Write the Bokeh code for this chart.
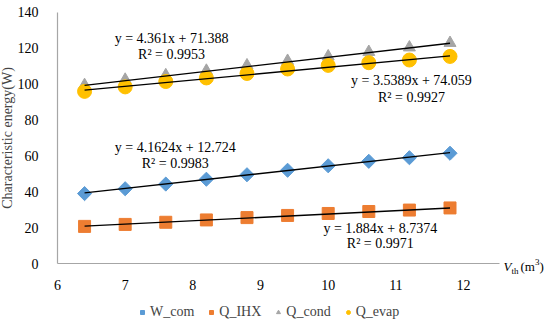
from bokeh.plotting import figure
from bokeh.models import Label, Legend, LegendItem, FixedTicker, Range1d
from bokeh.embed import file_html
from bokeh.resources import INLINE
import numpy as np

# ---- data ----
v_th = [6.4, 7.0, 7.6, 8.2, 8.8, 9.4, 10.0, 10.6, 11.2, 11.8]
w_com = [39.0, 41.7, 44.3, 47.0, 49.5, 52.0, 54.5, 57.0, 59.0, 61.5]
q_ihx = [20.7, 21.8, 23.0, 24.3, 25.6, 26.8, 27.9, 29.0, 29.8, 31.0]
q_cond = [99.5, 102.5, 105.0, 107.5, 110.5, 113.0, 115.5, 118.0, 120.5, 123.0]
q_evap = [96.0, 98.5, 101.5, 103.5, 106.0, 108.5, 110.5, 112.0, 113.5, 115.5]

series_names = ["W_com", "Q_IHX", "Q_cond", "Q_evap"]
# trendline coefficients (slope, intercept) and R^2 as printed
fit_slope = [4.1624, 1.884, 4.361, 3.5389]
fit_icpt = [12.724, 8.7374, 71.388, 74.059]
fit_r2 = ["0.9983", "0.9971", "0.9953", "0.9927"]
fit_eq = ["y = 4.1624x + 12.724", "y = 1.884x + 8.7374", "y = 4.361x + 71.388", "y = 3.5389x + 74.059"]

x_ticks = [6, 7, 8, 9, 10, 11, 12]
y_ticks = [0, 20, 40, 60, 80, 100, 120, 140]

FONT = "Liberation Serif"
colors = ["#5B9BD5", "#ED7D31", "#A5A5A5", "#FFC000"]
markers = ["square", "square", "triangle", "circle"]
angles = [np.pi / 4, 0, 0, 0]
sizes = [10, 12, 12, 14]
leg_sizes = [6, 7, 8, 8]

p = figure(width=550, height=320, output_backend="svg", toolbar_location=None,
           x_range=Range1d(5.1577, 13.285), y_range=Range1d(-31.79, 146.69),
           min_border_left=0, min_border_right=0, min_border_top=0, min_border_bottom=0)
p.outline_line_color = None
p.xgrid.visible = False
p.ygrid.visible = False

for ax in (p.xaxis[0], p.yaxis[0]):
    ax.axis_line_color = "#A6A6A6"
    ax.axis_line_width = 1.2
    ax.major_tick_line_color = None
    ax.minor_tick_line_color = None
    ax.major_label_text_font = FONT
    ax.major_label_text_font_size = "14px"
    ax.major_label_text_color = "#000000"
p.xaxis.ticker = FixedTicker(ticks=x_ticks)
p.yaxis.ticker = FixedTicker(ticks=y_ticks)
p.xaxis.bounds = (6, 12.53)
p.yaxis.bounds = (0, 140)
p.xaxis.fixed_location = 0
p.yaxis.fixed_location = 6
p.xaxis.major_label_standoff = 10
p.yaxis.major_label_standoff = 13
p.yaxis.axis_label = "Characteristic energy(W)"
p.yaxis.axis_label_text_font = FONT
p.yaxis.axis_label_text_font_style = "normal"
p.yaxis.axis_label_text_font_size = "14px"
p.yaxis.axis_label_standoff = 0

data = [w_com, q_ihx, q_cond, q_evap]
items = []
for i, ys in enumerate(data):
    p.scatter(v_th, ys, marker=markers[i], size=sizes[i], angle=angles[i],
              fill_color=colors[i], line_color=colors[i])
for i, ys in enumerate(data):
    xs = np.array([v_th[0], v_th[-1]])
    p.line(xs, fit_slope[i] * xs + fit_icpt[i], line_color="black", line_width=1.3)
for i in range(4):
    r = p.scatter([np.nan], [np.nan], marker=markers[i], size=leg_sizes[i], angle=angles[i],
                  fill_color=colors[i], line_color=colors[i])
    items.append(LegendItem(label=series_names[i], renderers=[r]))

legend = Legend(items=items, orientation="horizontal", location=(137, 0),
                label_text_font=FONT, label_text_font_size="14px",
                glyph_width=10, glyph_height=14, label_height=14, label_standoff=3,
                spacing=12, padding=0, margin=0, border_line_color=None,
                background_fill_alpha=0)
p.add_layout(legend, "center")

# trendline labels (eq, R^2) positions in data coords
lab_pos = [(7.74, 64.7, 55.8), (10.77, 19.5, 11.2), (7.685, 125.5, 116.6), (11.23, 102.1, 92.6)]
for i, (lx, ly1, ly2) in enumerate(lab_pos):
    for txt, ly in ((fit_eq[i], ly1), ("R\u00b2 = " + fit_r2[i], ly2)):
        p.add_layout(Label(x=lx, y=ly, text=txt, text_align="center", text_baseline="middle",
                           text_font=FONT, text_font_size="14px", text_color="#000000"))

# x-axis title at right end of axis
parts = [("V", 4, -3, "13px", "italic"), ("th", 12, -7, "9px", "normal"),
         ("(m", 21, -3, "13px", "normal"), ("3", 35.5, 2, "9px", "normal"),
         (")", 40, -3, "13px", "normal")]
for txt, xo, yo, fs, st in parts:
    p.add_layout(Label(x=12.53, y=0, x_offset=xo, y_offset=yo, text=txt, text_align="left",
                       text_baseline="middle", text_font=FONT, text_font_size=fs,
                       text_font_style=st, text_color="#000000"))

open("out.html", "w").write(file_html(p, INLINE))
